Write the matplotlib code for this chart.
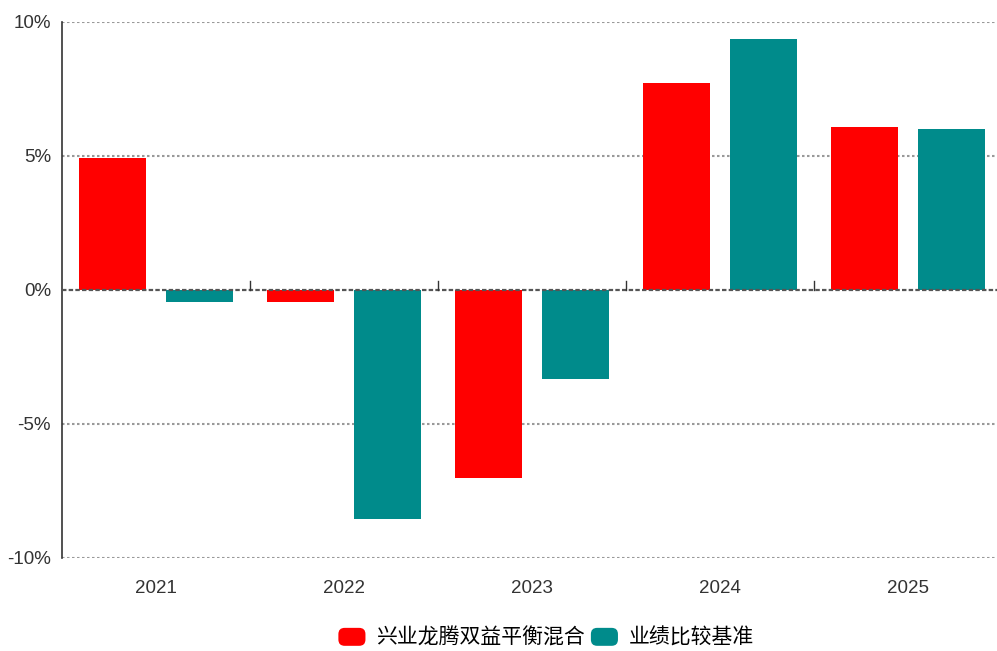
import numpy as np
import matplotlib.pyplot as plt
from matplotlib.patches import Patch, FancyBboxPatch
from matplotlib.legend_handler import HandlerPatch

plt.rcParams['font.family'] = ['Liberation Sans', 'Noto Sans CJK SC', 'DejaVu Sans']

years = ['2021', '2022', '2023', '2024', '2025']
fund = [4.93, -0.45, -7.01, 7.72, 6.08]
bench = [-0.45, -8.54, -3.32, 9.37, 6.00]
yticks = [-10, -5, 0, 5, 10]
ytick_labels = ['-10%', '-5%', '0%', '5%', '10%']
names = ['兴业龙腾双益平衡混合', '业绩比较基准']
red = '#ff0000'
teal = '#008b8b'

fig = plt.figure(figsize=(9.97, 6.51), dpi=100)
ax = fig.add_axes([62/997, 93/651, 940/997, 536/651])

x = np.arange(len(years))
w = 0.356
off = 0.229
ax.bar(x - off, fund, w, color=red, zorder=3)
ax.bar(x + off, bench, w, color=teal, zorder=3)

ax.set_xlim(-0.5, 4.5)
ax.set_ylim(-10, 10)
for v in yticks:
    if v == 0:
        ax.axhline(0, color='#555555', lw=1.6, ls=(0, (2, 1)), zorder=4)
    else:
        ax.axhline(v, color='#999999', lw=1.5, ls=(0, (1.2, 1.2)), zorder=1)

# small ticks on the zero line between groups
for b in x[1:] - 0.5:
    ax.plot([b, b], [0, 0.35], color='#333333', lw=1, zorder=4)

ax.set_yticks(yticks)
ax.set_yticklabels(ytick_labels, fontsize=13.5, color='#333333')
ax.set_xticks(x)
ax.set_xticklabels(years, fontsize=13.5, color='#333333')
ax.tick_params(axis='both', length=0)
ax.tick_params(axis='x', pad=16)
ax.tick_params(axis='y', pad=8)
for s in ['top', 'right', 'bottom']:
    ax.spines[s].set_visible(False)
ax.spines['left'].set_color('#333333')
ax.spines['left'].set_linewidth(1.2)


def rounded(legend, orig_handle, xdescent, ydescent, width, height, fontsize):
    return FancyBboxPatch((-xdescent, -ydescent), width, height,
                          boxstyle='round,pad=0,rounding_size=%f' % (height * 0.35))


handles = [Patch(facecolor=red), Patch(facecolor=teal)]
fig.legend(handles, names, loc='center', bbox_to_anchor=(546/997, 13/651),
           ncol=2, frameon=False, handlelength=1.3, handleheight=0.95,
           columnspacing=0.3, handletextpad=0.5,
           handler_map={Patch: HandlerPatch(patch_func=rounded)},
           prop={'family': ['Noto Sans CJK SC', 'DejaVu Sans'], 'size': 15})

fig.savefig('out.png', dpi=100)
